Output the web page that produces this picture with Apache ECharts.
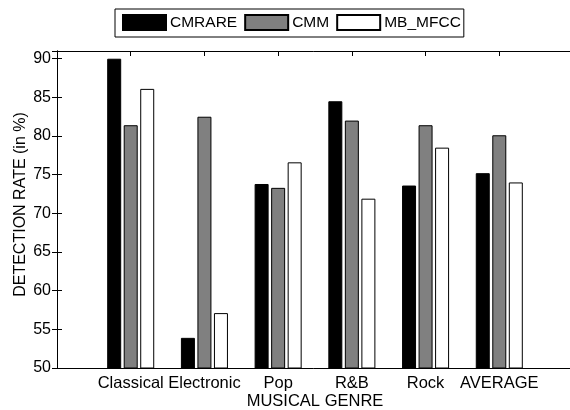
<!DOCTYPE html>
<html>
<head>
<meta charset="utf-8">
<script src="https://cdn.jsdelivr.net/npm/echarts@6/dist/echarts.min.js"></script>
<style>
  html, body { margin: 0; padding: 0; background: #fff; }
  #chart { width: 570px; height: 410px; }
</style>
</head>
<body>
<div id="chart"></div>
<script>
// 数据
const genres = ['Classical', 'Electronic', 'Pop', 'R&B', 'Rock', 'AVERAGE']
const cmrare = [90.0, 53.9, 73.8, 84.5, 73.6, 75.2]
const cmm = [81.4, 82.5, 73.3, 82.0, 81.4, 80.1]
const mbMfcc = [86.1, 57.1, 76.6, 71.9, 78.5, 74.0]

const font = "'Liberation Sans', Arial, Helvetica, sans-serif"

// 柱子放在 1..6 的数值轴上
const toPoints = arr => arr.map((v, i) => [i + 1, v])

const frameAxis = {
  axisLine: { show: true, lineStyle: { color: '#000', width: 1 } },
  axisTick: { show: true, inside: true, length: 5, lineStyle: { color: '#000' } },
  splitLine: { show: false }
}

const barSeries = (name, data, color) => ({
  name: name,
  type: 'bar',
  data: toPoints(data),
  barWidth: 14,
  barGap: '18%',
  xAxisIndex: 0,
  yAxisIndex: 0,
  itemStyle: { color: color, borderColor: '#000', borderWidth: 1 },
  emphasis: { disabled: true }
})

const option = {
  animation: false,
  textStyle: { fontFamily: font },
  legend: {
    left: 115,
    top: 9,
    icon: 'rect',
    itemWidth: 43,
    itemHeight: 15,
    itemGap: 7,
    padding: [5, 3, 6, 7],
    borderColor: '#000',
    borderWidth: 1,
    textStyle: { fontSize: 15.5, color: '#000', fontFamily: font, padding: [0, 0, 0, -1] },
    data: ['CMRARE', 'CMM', 'MB_MFCC']
  },
  grid: { left: 57, right: -3, top: 51, bottom: 42, containLabel: false, outerBoundsMode: 'none' },
  xAxis: [
    {
      type: 'value',
      min: 0,
      max: 7,
      interval: 1,
      position: 'bottom',
      ...frameAxis,
      axisTick: { show: false },
      axisLabel: {
        margin: 7,
        fontSize: 16.5,
        color: '#000',
        fontFamily: font,
        showMinLabel: false,
        showMaxLabel: false,
        formatter: v => genres[v - 1] || ''
      },
      name: 'MUSICAL GENRE',
      nameLocation: 'middle',
      nameGap: 25,
      nameMoveOverlap: false,
      nameTextStyle: { fontSize: 16.5, color: '#000', fontFamily: font }
    },
    {
      type: 'value',
      min: 0,
      max: 7,
      interval: 1,
      position: 'top',
      ...frameAxis,
      axisLabel: { show: false }
    }
  ],
  yAxis: [
    {
      type: 'value',
      min: 50,
      max: 91,
      interval: 5,
      position: 'left',
      ...frameAxis,
      axisLabel: {
        margin: 6,
        fontSize: 16,
        color: '#000',
        fontFamily: font,
        showMaxLabel: false
      },
      name: 'DETECTION RATE (in %)',
      nameLocation: 'middle',
      nameGap: 28,
      nameMoveOverlap: false,
      nameTextStyle: { fontSize: 16, color: '#000', fontFamily: font, padding: [0, 0, 0, 10] }
    },
    {
      type: 'value',
      min: 50,
      max: 91,
      interval: 5,
      position: 'right',
      ...frameAxis,
      axisLabel: { show: false }
    }
  ],
  series: [
    barSeries('CMRARE', cmrare, '#000'),
    barSeries('CMM', cmm, '#808080'),
    barSeries('MB_MFCC', mbMfcc, '#fff')
  ]
}

const chartDom = echarts.init(document.getElementById('chart'))
chartDom.setOption(option)
</script>
</body>
</html>
